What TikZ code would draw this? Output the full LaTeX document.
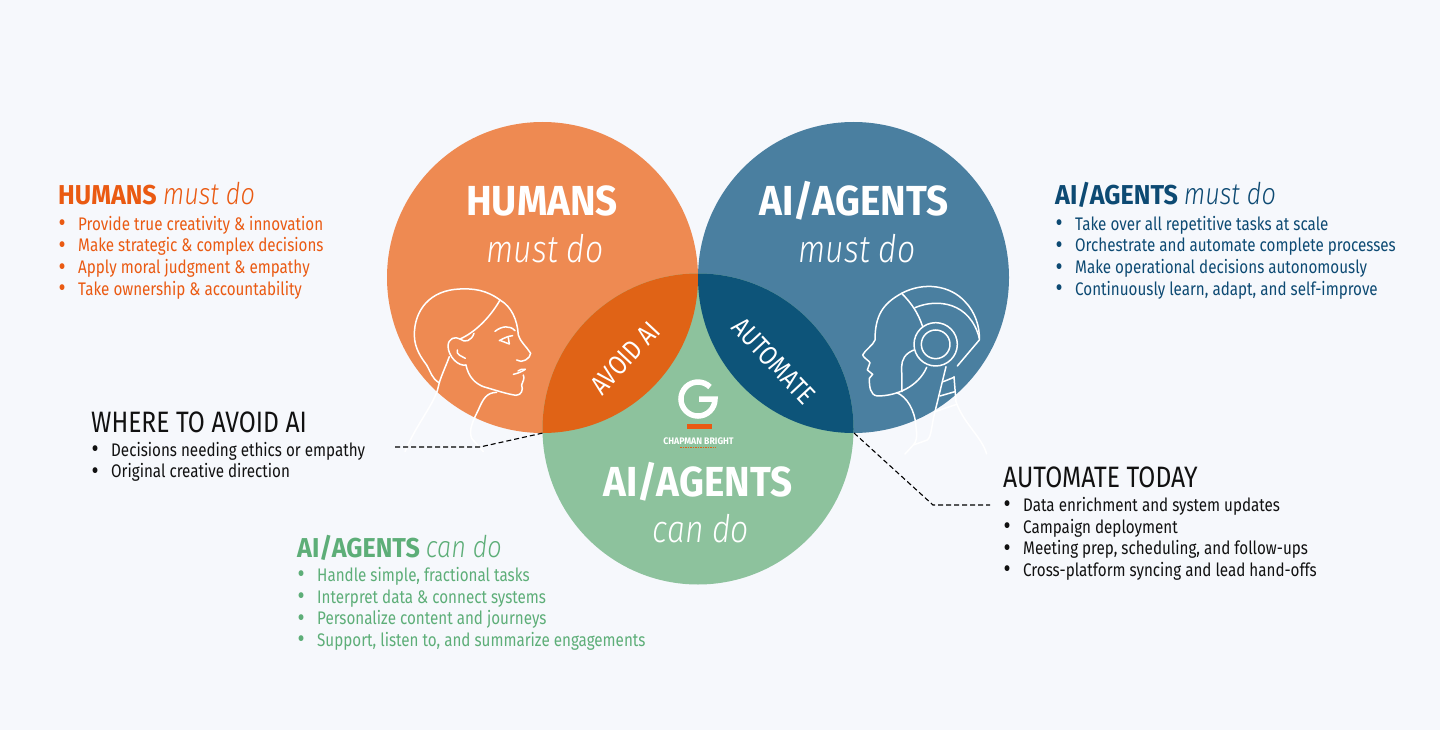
\documentclass[tikz,border=0pt]{standalone}
\usepackage{fontspec}
\setmainfont{Fira Sans}[UprightFont=*,ItalicFont=* Light Italic,BoldFont=* Bold,UprightFeatures={FakeStretch=0.835},ItalicFeatures={FakeStretch=0.84},BoldFeatures={FakeStretch=0.92}]
\usepackage{tikz}
\usepackage{xcolor}
\definecolor{paperbg}{HTML}{F6F8FC}
\definecolor{humanfill}{HTML}{EE8A52}
\definecolor{humantext}{HTML}{EA5A12}
\definecolor{avoidfill}{HTML}{E06316}
\definecolor{agentfill}{HTML}{4A7FA0}
\definecolor{agenttext}{HTML}{0D4A73}
\definecolor{autofill}{HTML}{0D5479}
\definecolor{canfill}{HTML}{8DC29D}
\definecolor{cantext}{HTML}{5DAE78}
\definecolor{inktext}{HTML}{111111}
\newcommand{\bul}{\makebox[20pt][l]{\hspace{0.5pt}{\fontsize{26}{0}\selectfont\raisebox{-1.5pt}{\textbullet}}}}
\newcommand{\subword}[1]{{\fontsize{30}{30}\selectfont\itshape #1}}
\tikzset{
  bigword/.style={white,font=\fontsize{42}{44}\selectfont\bfseries},
  bigsub/.style={white,font=\fontsize{38}{40}\selectfont\itshape},
  heading/.style={anchor=base west,inner sep=0pt,font=\fontsize{27.3}{30}\selectfont},
  plainhead/.style={anchor=base west,inner sep=0pt,font=\fontsize{29.5}{30}\selectfont},
  itemlist/.style={anchor=north west,inner sep=0pt,align=left,font=\fontsize{18.2}{21.6}\selectfont},
  lensword/.style={white,font=\fontsize{27}{28}\selectfont},
  lineart/.style={white,line width=1.5pt,line cap=round,line join=round},
  leader/.style={black,line width=1.1pt,dash pattern=on 5pt off 3pt}
}
\begin{document}
\begin{tikzpicture}[x=1pt,y=-1pt]
  \useasboundingbox (0,0) rectangle (1440,730);
  \fill[paperbg] (0,0) rectangle (1440,730);
  % circles
  \fill[humanfill] (542.5,277.5) circle (155.5);
  \fill[agentfill] (853.5,277.5) circle (155.5);
  \fill[canfill] (698,429) circle (155.5);
  \begin{scope}
    \clip (698,429) circle (155.5);
    \fill[avoidfill] (542.5,277.5) circle (155.5);
    \fill[autofill] (853.5,277.5) circle (155.5);
  \end{scope}
  % woman
  \begin{scope}[shift={(380,270)},x=0.3333pt,y=-0.3333pt,lineart]
    \draw (360,90) .. controls (320,60) and (280,55) .. (240,57) .. controls (150,60) and (103,120) .. (103,195)
      .. controls (103,235) and (125,265) .. (140,285) .. controls (152,305) and (155,325) .. (177,338);
    \draw (360,90) .. controls (395,110) and (412,150) .. (415,195) .. controls (420,215) and (440,230) .. (452,250)
      .. controls (452,265) and (425,282) .. (410,270);
    \draw (360,90) .. controls (335,135) and (290,185) .. (240,207);
    \draw (240,207) .. controls (255,220) and (275,212) .. (282,190);
    \draw (240,207) .. controls (225,198) and (205,205) .. (204,228) .. controls (205,260) and (235,290) .. (258,285);
    \draw (232,240) .. controls (228,255) and (245,258) .. (256,265);
    \draw (258,285) .. controls (265,320) and (285,340) .. (310,350) .. controls (345,360) and (380,372) .. (408,376)
      .. controls (425,375) and (430,360) .. (425,345) .. controls (428,335) and (435,325) .. (430,315);
    \draw (400,313) .. controls (415,310) and (425,305) .. (436,298);
    \draw (414,303) .. controls (420,298) and (428,296) .. (436,298);
    \draw (345,184) .. controls (365,168) and (390,165) .. (405,182);
    \draw (358,212) .. controls (370,205) and (385,198) .. (398,197);
    \draw (362,212) -- (388,222) -- (385,203);
    \draw (208,260) .. controls (195,295) and (180,325) .. (175,350) .. controls (165,400) and (110,460) .. (75,545);
    \draw (350,367) .. controls (320,368) and (310,385) .. (295,420) .. controls (280,450) and (265,480) .. (275,505) -- (310,545);
  \end{scope}
  % robot
  \begin{scope}[shift={(840,270)},x=0.3333pt,y=-0.3333pt,lineart]
    \draw (185,70) .. controls (130,100) and (105,135) .. (105,210) .. controls (100,225) and (75,240) .. (68,255)
      .. controls (72,265) and (85,270) .. (90,278) -- (82,300) -- (98,313) -- (88,325) .. controls (88,350) and (90,375) .. (112,378)
      .. controls (170,378) and (235,350) .. (260,292);
    \draw (185,70) .. controls (250,35) and (330,45) .. (375,95) .. controls (405,125) and (420,170) .. (418,210) -- (352,288);
    \draw (225,113) .. controls (290,85) and (390,95) .. (418,205);
    \draw (185,70) .. controls (215,100) and (235,130) .. (248,170);
    \draw (287,223) circle (65);
    \draw (287,223) circle (43);
    \draw (222,240) .. controls (195,250) and (185,270) .. (185,290) -- (186,365);
    \draw (318,290) -- (285,425) .. controls (275,460) and (275,500) .. (262,510) -- (220,525) -- (195,552);
    \draw (170,368) .. controls (200,380) and (225,420) .. (228,470) .. controls (232,500) and (230,515) .. (220,525);
    \draw (342,320) -- (348,395) .. controls (370,460) and (425,500) .. (440,552);
    \draw (310,335) -- (342,322);
    \draw (300,378) -- (345,365);
    \draw (285,425) -- (350,403);
  \end{scope}
  % circle titles
  \node[bigword] (humansword) at (542,201) {HUMANS};
  \node[bigsub] (humanssub) at (545,249) {must do};
  \node[bigword] (agentsword) at (854,201) {AI/AGENTS};
  \node[bigsub] (agentssub) at (857,249) {must do};
  \node[bigword] (canword) at (698,482) {AI/AGENTS};
  \node[bigsub] (cansub) at (701,529) {can do};
  \node[lensword,rotate=47] (avoidword) at (625,358) {AVOID AI};
  \node[lensword,rotate=-47] (autoword) at (774,361) {AUTOMATE};
  % logo
  \draw[white,line width=5.5pt] (710,387) arc (-45:-360:17) -- (699,399);
  \fill[humantext] (686.5,424) rectangle (712,429);
  \node[white,inner sep=0pt,font=\fontsize{9.5}{10}\selectfont\bfseries] (logoname) at (698.5,441) {CHAPMAN BRIGHT};
  \draw[avoidfill,line width=1pt,dash pattern=on 1.5pt off 1pt] (680,447.5) -- (716,447.5);
  % side lists
  \node[heading,text=humantext] (humanshead) at (58,205) {\textbf{HUMANS} \subword{must do}};
  \node[itemlist,text=humantext] (humanslist) at (58,216) {\bul Provide true creativity \& innovation\\ \bul Make strategic \& complex decisions\\ \bul Apply moral judgment \& empathy\\ \bul Take ownership \& accountability};
  \node[heading,text=agenttext] (agentshead) at (1055,205) {\textbf{AI/AGENTS} \subword{must do}};
  \node[itemlist,text=agenttext] (agentslist) at (1055,216) {\bul Take over all repetitive tasks at scale\\ \bul Orchestrate and automate complete processes\\ \bul Make operational decisions autonomously\\ \bul Continuously learn, adapt, and self-improve};
  \node[heading,text=cantext] (canhead) at (297,557) {\textbf{AI/AGENTS} \subword{can do}};
  \node[itemlist,text=cantext] (canlist) at (297,567) {\bul Handle simple, fractional tasks\\ \bul Interpret data \& connect systems\\ \bul Personalize content and journeys\\ \bul Support, listen to, and summarize engagements};
  \node[plainhead,text=inktext] (avoidhead) at (91,432) {WHERE TO AVOID AI};
  \node[itemlist,text=inktext] (avoidlist) at (91,442) {\bul Decisions needing ethics or empathy\\ \bul Original creative direction};
  \node[plainhead,text=inktext] (autohead) at (1003,487) {AUTOMATE TODAY};
  \node[itemlist,text=inktext] (autolist) at (1003,497) {\bul Data enrichment and system updates\\ \bul Campaign deployment\\ \bul Meeting prep, scheduling, and follow-ups\\ \bul Cross-platform syncing and lead hand-offs};
  % leaders
  \coordinate (avoidtip) at (543,433);
  \coordinate (avoidend) at (395,447);
  \coordinate (autotip) at (854,433);
  \coordinate (autoend) at (990,505);
  \draw[leader] (avoidend) -- (480,447) -- (avoidtip);
  \draw[leader] (autotip) -- (933,505) -- (autoend);
\end{tikzpicture}
\end{document}
